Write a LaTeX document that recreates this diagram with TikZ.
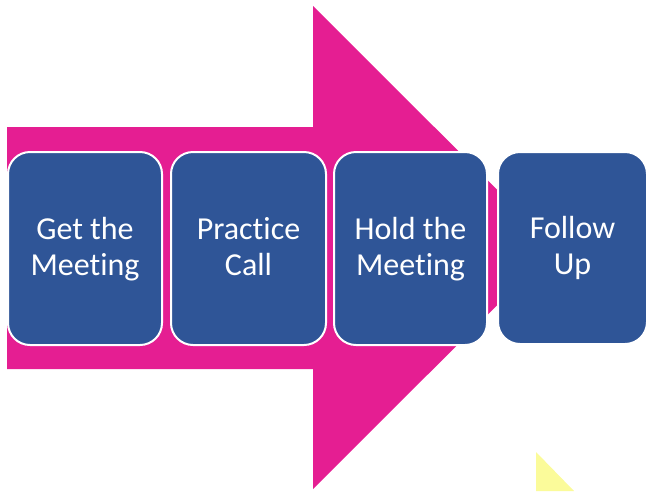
\documentclass[tikz,border=0pt]{standalone}
\usepackage{fontspec}
\setmainfont[RawFeature=-liga]{Carlito}
\definecolor{mag}{HTML}{E51E92}
\definecolor{boxblue}{HTML}{2F5597}
\definecolor{softyellow}{HTML}{FBFB9A}
\begin{document}
\begin{tikzpicture}[x=1pt,y=-1pt,
  stagebox/.style={rectangle, rounded corners=22pt, fill=boxblue, draw=white,
    line width=2pt, text=white, align=center,
    font=\fontsize{32}{36}\selectfont, inner sep=0pt, minimum height=193pt,
    text height=58pt, text depth=5pt}]
\useasboundingbox (0,0) rectangle (648,491);
% big arrow
\fill[mag] (7,127) -- (313,127) -- (313,6) -- (555,247.5) -- (313,489)
  -- (313,369) -- (7,369) -- cycle;
% yellow triangle
\fill[softyellow] (536,452) -- (574,491) -- (536,491) -- cycle;
% stages
\node[stagebox, minimum width=154pt] (s1) at (85,248.5) {Get the\\Meeting};
\node[stagebox, minimum width=155pt] (s2) at (248.5,248.5) {Practice\\Call};
\node[stagebox, minimum width=153pt] (s3) at (410.5,248.5) {Hold the\\Meeting};
\node[stagebox, minimum width=149pt, minimum height=192pt] (s4) at (572.5,248) {Follow\\Up};
\end{tikzpicture}
\end{document}
